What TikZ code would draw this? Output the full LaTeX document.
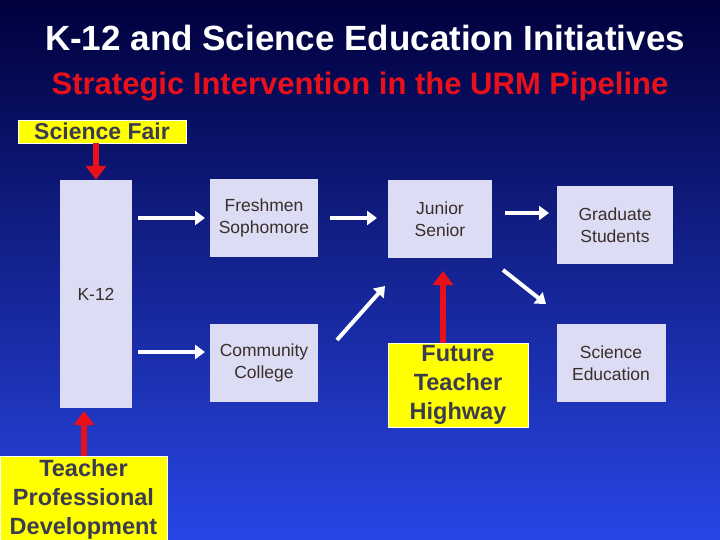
\documentclass[tikz,border=0pt]{standalone}
\usepackage{fontspec}
\setmainfont{Liberation Sans}
\usetikzlibrary{arrows.meta}
\definecolor{boxc}{HTML}{DCDCF5}
\definecolor{txtc}{HTML}{3A2E2A}
\definecolor{ylw}{HTML}{FFFF00}
\definecolor{redc}{HTML}{E8101A}
\definecolor{ytxt}{HTML}{3C3C50}
\begin{document}
\begin{tikzpicture}[x=1pt,y=-1pt,
  lbox/.style={fill=boxc,draw=none,text=txtc,font=\fontsize{17.5}{22}\selectfont,align=center,inner sep=0},
  ybox/.style={fill=ylw,draw=white,line width=0.8pt,text=ytxt,align=center,inner sep=0},
  warr/.style={white,line width=4pt,-{Triangle[length=10pt,width=14pt]}},
  rarr/.style={redc,line width=6pt,-{Triangle[length=14pt,width=20pt]}}]
\shade[top color={rgb,255:red,0;green,0;blue,60},bottom color={rgb,255:red,40;green,70;blue,230}] (0,0) rectangle (720,540);
\useasboundingbox (0,0) rectangle (720,540);
\node[white,font=\fontsize{35}{40}\selectfont\bfseries] (t) at (365,38) {K-12 and Science Education Initiatives};
\node[redc,font=\fontsize{31}{36}\selectfont\bfseries] (s) at (360,87) {Strategic Intervention in the URM Pipeline};
\node[lbox,minimum width=72,minimum height=228] (k) at (96,294) {K-12};
\node[lbox,minimum width=108,minimum height=78] (fs) at (264,218) {Freshmen\\Sophomore};
\node[lbox,minimum width=104,minimum height=78] (js) at (440,219) {Junior\\Senior};
\node[lbox,minimum width=116,minimum height=78] (gs) at (615,225) {Graduate\\Students};
\node[lbox,minimum width=108,minimum height=78] (cc) at (264,363) {Community\\College};
\node[lbox,minimum width=109,minimum height=78] (se) at (611,363) {Science\\Education};
\node[ybox,minimum width=140,minimum height=84,font=\fontsize{23.5}{29}\selectfont\bfseries] (ft) at (458,385) {Future\\Teacher\\Highway};
\node[ybox,minimum width=168,minimum height=23,font=\fontsize{23}{26}\selectfont\bfseries] (sf) at (102,131.5) {Science Fair};
\node[ybox,minimum width=167,minimum height=86,font=\fontsize{23.5}{29}\selectfont\bfseries] (tp) at (83.5,499) {Teacher\\Professional\\Development};
\coordinate (a1) at (138,218); \coordinate (b1) at (205,218);
\coordinate (a2) at (330,218); \coordinate (b2) at (377,218);
\coordinate (a3) at (505,213); \coordinate (b3) at (549,213);
\coordinate (a4) at (138,352); \coordinate (b4) at (205,352);
\coordinate (a5) at (337,340); \coordinate (b5) at (385,286);
\coordinate (a6) at (503,270); \coordinate (b6) at (546,304);
\draw[warr] (a1) -- (b1);
\draw[warr] (a2) -- (b2);
\draw[warr] (a3) -- (b3);
\draw[warr] (a4) -- (b4);
\draw[warr] (a5) -- (b5);
\draw[warr] (a6) -- (b6);
\draw[rarr] (sf.south -| k.north) -- (k.north);
\draw[rarr] (ft.north -| 443,0) -- (443,271);
\draw[rarr] (tp.north -| 84,0) -- (84,411);
\end{tikzpicture}
\end{document}
